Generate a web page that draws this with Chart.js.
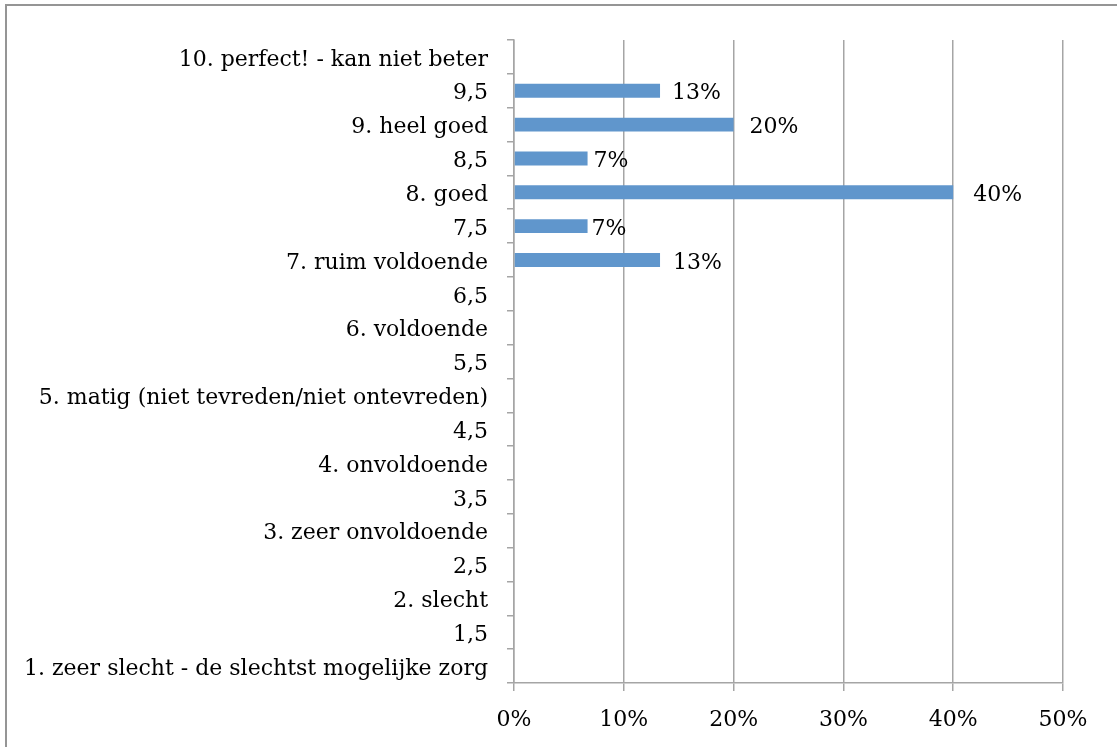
<!DOCTYPE html>
<html>
<head>
<meta charset="utf-8">
<script src="https://cdn.jsdelivr.net/npm/chart.js@4/dist/chart.umd.min.js"></script>
<style>
  html, body { margin: 0; padding: 0; background: #ffffff; }
  canvas { display: block; }
</style>
</head>
<body>
<canvas id="chart" width="1117" height="747"></canvas>
<script>
// Score categories, top to bottom
const categories = [
  '10. perfect! - kan niet beter',
  '9,5',
  '9. heel goed',
  '8,5',
  '8. goed',
  '7,5',
  '7. ruim voldoende',
  '6,5',
  '6. voldoende',
  '5,5',
  '5. matig (niet tevreden/niet ontevreden)',
  '4,5',
  '4. onvoldoende',
  '3,5',
  '3. zeer onvoldoende',
  '2,5',
  '2. slecht',
  '1,5',
  '1. zeer slecht - de slechtst mogelijke zorg'
];

// Share of respondents per score (%)
const shares = [0, 13.3, 20, 6.7, 40, 6.7, 13.3, 0, 0, 0, 0, 0, 0, 0, 0, 0, 0, 0, 0];

// Percentage axis ticks
const xTickValues = [0, 10, 20, 30, 40, 50];

// Horizontal gap between bar end and its value label (px)
const labelGap = [0, 12, 16, 6, 20, 4, 13, 0, 0, 0, 0, 0, 0, 0, 0, 0, 0, 0, 0];

const FONT_FAMILY = '"DejaVu Serif", "Liberation Serif", serif';
const FONT_SIZE = 22;
const AXIS_GREY = '#a5a5a5';

// Grey frame along the top and left edge
const framePlugin = {
  id: 'frame',
  beforeDraw(chart) {
    const ctx = chart.ctx;
    ctx.save();
    ctx.strokeStyle = '#959595';
    ctx.lineWidth = 2;
    ctx.beginPath();
    ctx.moveTo(6, 747);
    ctx.lineTo(6, 5);
    ctx.lineTo(1117, 5);
    ctx.stroke();
    ctx.restore();
  }
};

// Value labels to the right of each non-zero bar
const valueLabelPlugin = {
  id: 'valueLabels',
  afterDatasetsDraw(chart) {
    const ctx = chart.ctx;
    const meta = chart.getDatasetMeta(0);
    ctx.save();
    ctx.font = FONT_SIZE + 'px ' + FONT_FAMILY;
    ctx.fillStyle = '#000000';
    ctx.textAlign = 'left';
    ctx.textBaseline = 'middle';
    meta.data.forEach((bar, i) => {
      const v = shares[i];
      if (!v) return;
      ctx.fillText(Math.round(v) + '%', bar.x + labelGap[i], bar.y + 3);
    });
    ctx.restore();
  }
};

new Chart(document.getElementById('chart'), {
  type: 'bar',
  data: {
    labels: categories,
    datasets: [{
      data: shares,
      backgroundColor: '#6096cc',
      borderWidth: 0,
      barPercentage: 0.41,
      categoryPercentage: 1.0
    }]
  },
  options: {
    indexAxis: 'y',
    responsive: false,
    animation: false,
    devicePixelRatio: 1,
    layout: { padding: { top: 40, right: 54, left: 0, bottom: 0 } },
    plugins: {
      legend: { display: false },
      tooltip: { enabled: false }
    },
    scales: {
      x: {
        min: 0,
        max: 50,
        afterBuildTicks(scale) {
          scale.ticks = xTickValues.map(v => ({ value: v }));
        },
        afterFit(scale) { scale.height = 64; },
        grid: {
          color: AXIS_GREY,
          lineWidth: 1.5,
          drawTicks: true,
          tickLength: 8
        },
        border: { color: AXIS_GREY, width: 1.5 },
        ticks: {
          color: '#000000',
          padding: 16,
          font: { family: FONT_FAMILY, size: FONT_SIZE },
          callback: v => v + '%'
        }
      },
      y: {
        afterFit(scale) { scale.width = 514; },
        grid: {
          offset: true,
          drawOnChartArea: false,
          drawTicks: true,
          tickLength: 7,
          color: AXIS_GREY,
          lineWidth: 1.5
        },
        border: { color: AXIS_GREY, width: 1.5 },
        ticks: {
          color: '#000000',
          padding: 19,
          labelOffset: 3,
          autoSkip: false,
          font: { family: FONT_FAMILY, size: FONT_SIZE }
        }
      }
    }
  },
  plugins: [framePlugin, valueLabelPlugin]
});
</script>
</body>
</html>
